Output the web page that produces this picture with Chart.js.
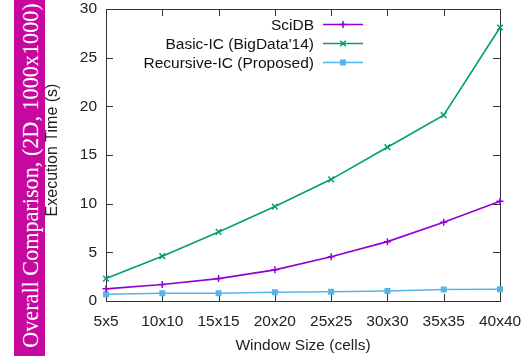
<!DOCTYPE html>
<html>
<head>
<meta charset="utf-8">
<script src="https://cdn.jsdelivr.net/npm/chart.js@4.4.1/dist/chart.umd.min.js"></script>
<style>
  html, body { margin: 0; padding: 0; background: #fff; }
  #wrap { position: relative; width: 526px; height: 356px; overflow: hidden; }
  #band { position: absolute; left: 14px; top: 0; width: 31px; height: 356px; background: rgb(199,8,158); }
  #bandText { position: absolute; left: 50%; top: 50%; width: 360px; height: 31px; line-height: 31px;
    margin-left: -180px; margin-top: -15.5px; text-align: center; white-space: nowrap;
    font-family: "Liberation Serif", "Times New Roman", serif; font-size: 22.2px; color: #fff;
    transform: rotate(-90deg) translateX(3px); }
  #c { position: absolute; left: 0; top: 0; }
</style>
</head>
<body>
<div id="wrap">
  <div id="band"><div id="bandText">Overall Comparison, (2D, 1000x1000)</div></div>
  <canvas id="c" width="526" height="356"></canvas>
</div>
<script>
const categories = ["5x5", "10x10", "15x15", "20x20", "25x25", "30x30", "35x35", "40x40"];
const sciDB = [1.25, 1.7, 2.3, 3.2, 4.55, 6.1, 8.1, 10.25];
const basicIC = [2.3, 4.6, 7.1, 9.7, 12.5, 15.8, 19.1, 28.1];
const recursiveIC = [0.7, 0.8, 0.8, 0.9, 0.95, 1.03, 1.18, 1.2];
const seriesNames = ["SciDB", "Basic-IC (BigData'14)", "Recursive-IC (Proposed)"];
const yTicks = [0, 5, 10, 15, 20, 25, 30];
const yTitle = "Execution Time (s)";
const xTitle = "Window Size (cells)";

const FONT = "'Liberation Sans', Arial, sans-serif";

const gnuBox = {
  id: 'gnuBox',
  beforeDatasetsDraw(chart) {
    const {ctx, chartArea: a, scales} = chart;
    ctx.save();
    ctx.strokeStyle = '#333';
    ctx.lineWidth = 1;
    ctx.strokeRect(Math.round(a.left) + 0.5, Math.round(a.top) + 0.5,
                   Math.round(a.right) - Math.round(a.left), Math.round(a.bottom) - Math.round(a.top));
    const tl = 7;
    ctx.beginPath();
    scales.y.ticks.forEach((t, i) => {
      const y = Math.round(scales.y.getPixelForTick(i)) + 0.5;
      if (i === 0 || i === scales.y.ticks.length - 1) return;
      ctx.moveTo(a.left, y); ctx.lineTo(a.left + tl, y);
      ctx.moveTo(a.right, y); ctx.lineTo(a.right - tl, y);
    });
    scales.x.ticks.forEach((t, i) => {
      const x = Math.round(scales.x.getPixelForTick(i)) + 0.5;
      if (i === 0 || i === scales.x.ticks.length - 1) return;
      ctx.moveTo(x, a.bottom); ctx.lineTo(x, a.bottom - tl);
      ctx.moveTo(x, a.top); ctx.lineTo(x, a.top + tl);
    });
    ctx.stroke();
    ctx.restore();
  },
  afterDraw(chart) {
    const {ctx} = chart;
    ctx.save();
    // y axis title
    ctx.save();
    ctx.translate(53, 150);
    ctx.rotate(-Math.PI / 2);
    ctx.font = "16px " + FONT;
    ctx.fillStyle = '#222';
    ctx.textAlign = 'center';
    ctx.textBaseline = 'middle';
    ctx.fillText(yTitle, 0, 0);
    ctx.restore();
    // legend
    ctx.font = "15.5px " + FONT;
    ctx.textAlign = 'right';
    ctx.textBaseline = 'middle';
    const textRight = 314, x0 = 323, x1 = 363;
    chart.data.datasets.forEach((ds, i) => {
      const y = 24.5 + i * 19;
      ctx.fillStyle = '#111';
      ctx.fillText(ds.label, textRight, y + 1);
      ctx.strokeStyle = ds.borderColor;
      ctx.lineWidth = ds.borderWidth;
      ctx.beginPath(); ctx.moveTo(x0, y); ctx.lineTo(x1, y); ctx.stroke();
      const mx = (x0 + x1) / 2;
      ctx.lineWidth = 1.5;
      ctx.fillStyle = ds.borderColor;
      const r = ds.pointRadius;
      ctx.beginPath();
      if (ds.pointStyle === 'cross') {
        ctx.moveTo(mx - r, y); ctx.lineTo(mx + r, y); ctx.moveTo(mx, y - r); ctx.lineTo(mx, y + r); ctx.stroke();
      } else if (ds.pointStyle === 'crossRot') {
        const d = r * 0.7071;
        ctx.moveTo(mx - d, y - d); ctx.lineTo(mx + d, y + d); ctx.moveTo(mx - d, y + d); ctx.lineTo(mx + d, y - d); ctx.stroke();
      } else {
        const s = r * 0.7071;
        ctx.fillRect(mx - s, y - s, 2 * s, 2 * s);
      }
    });
    ctx.restore();
  }
};

new Chart(document.getElementById('c'), {
  type: 'line',
  data: {
    labels: categories,
    datasets: [
      { label: seriesNames[0], data: sciDB, borderColor: '#9400d3', backgroundColor: '#9400d3',
        borderWidth: 1.6, pointStyle: 'cross', pointRadius: 3.5, pointBorderWidth: 1.5, tension: 0 },
      { label: seriesNames[1], data: basicIC, borderColor: '#009e73', backgroundColor: '#009e73',
        borderWidth: 1.6, pointStyle: 'crossRot', pointRadius: 4, pointBorderWidth: 1.5, tension: 0 },
      { label: seriesNames[2], data: recursiveIC, borderColor: '#56b4e9', backgroundColor: '#56b4e9',
        borderWidth: 1.6, pointStyle: 'rect', pointRadius: 4.2, pointBorderWidth: 0, tension: 0 }
    ]
  },
  options: {
    responsive: false,
    animation: false,
    layout: { padding: { left: 45, top: 9, right: 26, bottom: 0 } },
    plugins: { legend: { display: false }, tooltip: { enabled: false } },
    scales: {
      x: {
        type: 'category', offset: false,
        grid: { display: false, drawTicks: false }, border: { display: false },
        ticks: { color: '#222', padding: 11, maxRotation: 0, autoSkip: false, font: { family: FONT, size: 15.5 } },
        title: { display: true, text: xTitle, color: '#222', padding: { top: 0, bottom: 1 },
                 font: { family: FONT, size: 15.5 } },
        afterFit(s) { s.height = 55; s.paddingLeft = 0; s.paddingRight = 0; }
      },
      y: {
        min: 0, max: 30,
        afterBuildTicks(s) { s.ticks = yTicks.map(v => ({ value: v })); },
        grid: { display: false, drawTicks: false }, border: { display: false },
        ticks: { color: '#222', padding: 9, font: { family: FONT, size: 15.5, lineHeight: 1.1 } },
        title: { display: false },
        afterFit(s) { s.width = 61; s.paddingTop = 0; s.paddingBottom = 0; }
      }
    }
  },
  plugins: [gnuBox]
});
</script>
</body>
</html>
